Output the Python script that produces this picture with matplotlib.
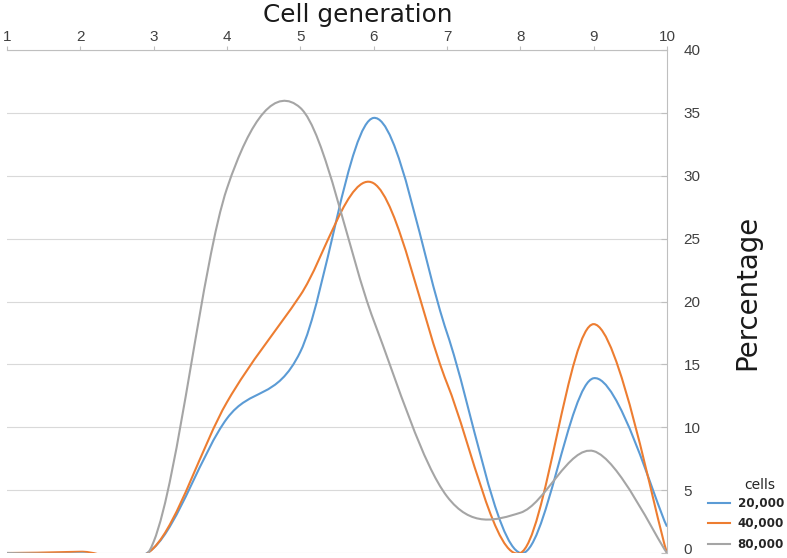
import matplotlib
matplotlib.use("Agg")
import matplotlib.pyplot as plt
from matplotlib.path import Path
from matplotlib.patches import PathPatch
from matplotlib.lines import Line2D
from matplotlib.transforms import ScaledTranslation

# ---- data ----
generations = [1, 2, 3, 4, 5, 6, 7, 8, 9, 10]
cells_20000 = [0, 0, 0.4, 10.7, 16.0, 34.6, 17.5, 0, 13.9, 2.1]
cells_40000 = [0, 0.1, 0.4, 12.0, 20.5, 29.4, 13.5, 0, 18.2, 0]
cells_80000 = [0, 0, 0.9, 29.0, 35.4, 18.5, 4.5, 3.2, 8.1, 0]
series_labels = ["20,000", "40,000", "80,000"]
x_ticks = [1, 2, 3, 4, 5, 6, 7, 8, 9, 10]
y_ticks = [0, 5, 10, 15, 20, 25, 30, 35, 40]

colors = ["#5B9BD5", "#ED7D31", "#A5A5A5"]

W, H = 787, 558
fig = plt.figure(figsize=(W / 100, H / 100), dpi=100)
ax = fig.add_axes([7 / W, 1 - 553 / H, (667 - 7) / W, (553 - 50) / H])


def smooth_path(xs, ys):
    """Excel-like smoothed line: Catmull-Rom as cubic Bezier segments."""
    n = len(xs)
    verts = [(xs[0], ys[0])]
    codes = [Path.MOVETO]
    for i in range(n - 1):
        i0 = max(i - 1, 0)
        i3 = min(i + 2, n - 1)
        c1 = (xs[i] + (xs[i + 1] - xs[i0]) / 6, ys[i] + (ys[i + 1] - ys[i0]) / 6)
        c2 = (xs[i + 1] - (xs[i3] - xs[i]) / 6, ys[i + 1] - (ys[i3] - ys[i]) / 6)
        verts += [c1, c2, (xs[i + 1], ys[i + 1])]
        codes += [Path.CURVE4] * 3
    return Path(verts, codes)


all_series = [cells_20000, cells_40000, cells_80000]
handles = []
for vals, col, lab in zip(all_series, colors, series_labels):
    patch = PathPatch(smooth_path(generations, vals), facecolor="none",
                      edgecolor=col, lw=1.5, zorder=3)
    ax.add_patch(patch)
    handles.append(Line2D([], [], color=col, lw=1.5, label=lab))

ax.set_xlim(1, 10)
ax.set_ylim(0, 40)
ax.set_xticks(x_ticks)
ax.set_yticks(y_ticks)

for s in ["left", "bottom"]:
    ax.spines[s].set_visible(False)
for s in ["top", "right"]:
    ax.spines[s].set_color("#bfbfbf")
    ax.spines[s].set_linewidth(0.8)

ax.xaxis.tick_top()
ax.yaxis.tick_right()
ax.tick_params(axis="x", direction="out", length=3, color="#bfbfbf",
               pad=1.5, labelsize=11, labelcolor="#404040")
ax.tick_params(axis="y", direction="in", length=4, color="#bfbfbf",
               pad=12, labelsize=11, labelcolor="#404040")
for lbl in ax.get_xticklabels() + ax.get_yticklabels():
    lbl.set_fontfamily("Liberation Sans")

# lift the "0" label slightly so it stays inside the figure (as in the reference)
for tick in ax.yaxis.get_major_ticks()[:1]:
    lab2 = tick.label2
    lab2.set_transform(lab2.get_transform() +
                       ScaledTranslation(0, 4 / 100, fig.dpi_scale_trans))

ax.grid(axis="y", color="#d9d9d9", lw=0.8)
ax.set_axisbelow(True)

fig.text(357.5 / W, 1 - 22 / H, "Cell generation", ha="center", va="baseline",
         fontsize=17.8, family="DejaVu Sans", color="#1a1a1a")
fig.text(747 / W, 1 - 292.5 / H, "Percentage", ha="center", va="center",
         rotation=90, fontsize=19.8, family="DejaVu Sans", color="#1a1a1a")

fig.text(760 / W, 1 - 485 / H, "cells", ha="center", va="center",
         fontsize=10, family="DejaVu Sans", color="#262626")
leg = ax.legend(handles=handles, loc="lower right",
                bbox_to_anchor=(784 / W, 1 - 551 / H),
                bbox_transform=fig.transFigure, frameon=False,
                prop={"family": "DejaVu Sans", "weight": "bold", "size": 8.6},
                handlelength=1.9, handletextpad=0.6, labelspacing=0.63,
                borderpad=0, borderaxespad=0)
for t in leg.get_texts():
    t.set_color("#262626")

fig.savefig("out.png", dpi=100)
